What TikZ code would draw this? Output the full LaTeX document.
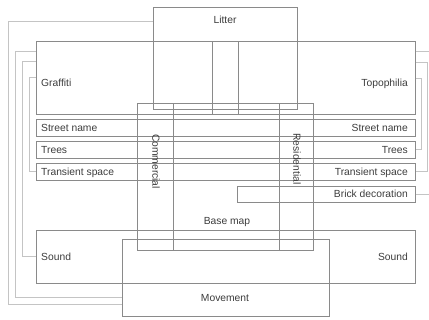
\documentclass[tikz,border=0pt]{standalone}
\usepackage{fontspec}
\setsansfont{Liberation Sans}
\usetikzlibrary{positioning,fit,calc}

\definecolor{boxgray}{RGB}{138,138,138}
\definecolor{linkgray}{RGB}{196,196,196}
\definecolor{txtgray}{RGB}{60,60,60}

\begin{document}
\begin{tikzpicture}[
    x=1pt, y=-1pt,
    area/.style={draw=boxgray, line width=1pt, inner sep=0pt},
    lbl/.style={font=\sffamily\fontsize{10.3}{12}\selectfont, text=txtgray, inner sep=0pt, text height=7.5pt, text depth=2pt},
    link/.style={draw=linkgray, line width=1pt}
]
\useasboundingbox (0,0) rectangle (429,320);

% boxes
\node[area, fit={(153,8) (297,110)}] (litter) {};
\node[area, fit={(36,42) (238,115)}] (graffiti) {};
\node[area, fit={(212,42) (415,115)}] (topophilia) {};
\node[area, fit={(36,120) (415,137)}] (street) {};
\node[area, fit={(36,142) (415,159)}] (trees) {};
\node[area, fit={(36,164) (415,181)}] (transient) {};
\node[area, fit={(237,187) (415,203)}] (brick) {};
\node[area, fit={(137,104) (313,251)}] (basemap) {};
\node[area, fit={(137,104) (173,251)}] (commercial) {};
\node[area, fit={(279,104) (313,251)}] (residential) {};
\node[area, fit={(36,231) (415,284)}] (sound) {};
\node[area, fit={(122,240) (329,317)}] (movement) {};

% labels
\node[lbl] (litterTxt) at (225,21) {Litter};
\node[lbl, anchor=west] (graffitiTxt) at (41,84) {Graffiti};
\node[lbl, anchor=east] (topophiliaTxt) at (408,84) {Topophilia};
\node[lbl, anchor=west] (streetL) at (41,128.5) {Street name};
\node[lbl, anchor=east] (streetR) at (408,128.5) {Street name};
\node[lbl, anchor=west] (treesL) at (41,150.5) {Trees};
\node[lbl, anchor=east] (treesR) at (408,150.5) {Trees};
\node[lbl, anchor=west] (transientL) at (41,172.5) {Transient space};
\node[lbl, anchor=east] (transientR) at (408,172.5) {Transient space};
\node[lbl, anchor=east] (brickTxt) at (408,195) {Brick decoration};
\node[lbl] (basemapTxt) at (227,222) {Base map};
\node[lbl, rotate=-90] (commercialTxt) at (155,161.5) {Commercial};
\node[lbl, rotate=-90] (residentialTxt) at (296,159) {Residential};
\node[lbl, anchor=west] (soundL) at (41,257.5) {Sound};
\node[lbl, anchor=east] (soundR) at (408,257.5) {Sound};
\node[lbl] (movementTxt) at (225,299) {Movement};

% free ends on the right
\coordinate (outTopo) at (429,52);
\coordinate (outBrick) at (429,195);

% connectors
\draw[link] (litter.west |- 0,22) -- (8,22) |- (movement.west |- 0,305);
\draw[link] (graffiti.west |- 0,52) -- (15,52) |- (movement.west |- 0,298);
\draw[link] (graffiti.west |- 0,62) -- (22,62) |- (sound.west |- 0,257);
\draw[link] (graffiti.west |- 0,78) -- (29,78) |- (transient.west |- 0,172);
\draw[link] (topophilia.east |- outTopo) -- (outTopo);
\draw[link] (topophilia.east |- 0,63) -- (427,63) |- (transient.east |- 0,172);
\draw[link] (topophilia.east |- 0,79) -- (421,79) |- (trees.east |- 0,150);
\draw[link] (brick.east) -- (outBrick);
\end{tikzpicture}
\end{document}
